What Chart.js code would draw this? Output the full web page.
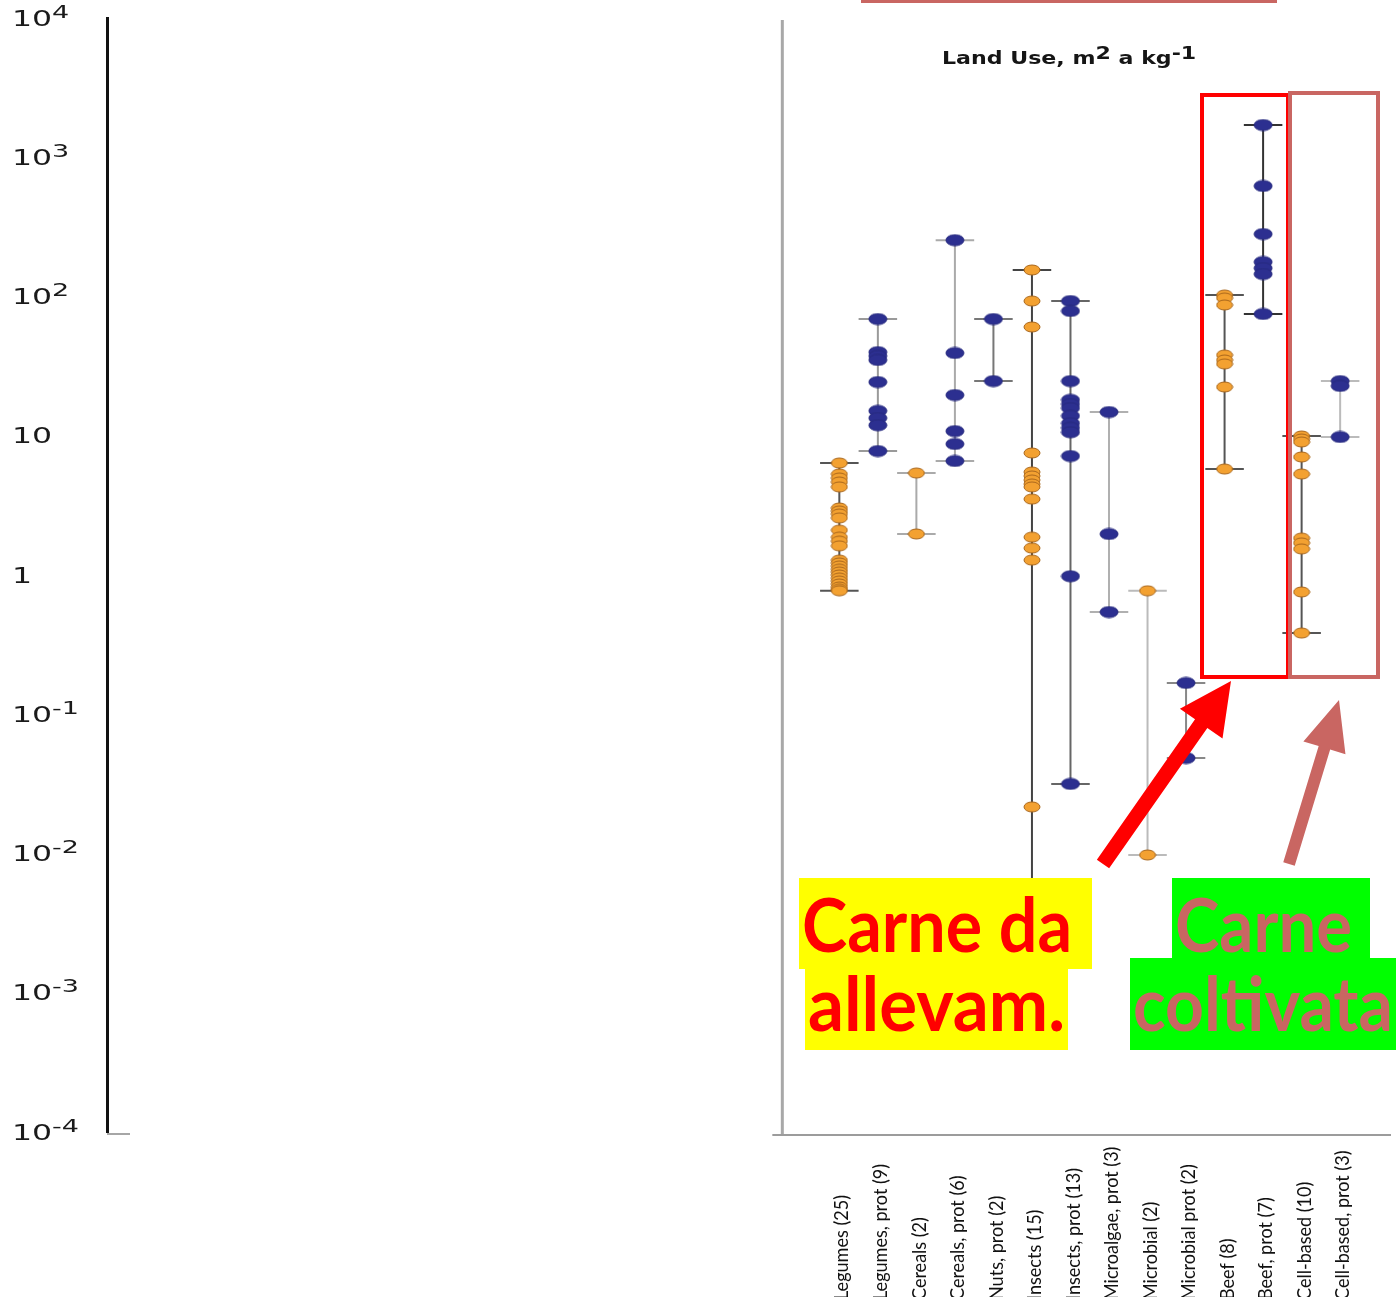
<!DOCTYPE html>
<html>
<head>
<meta charset="utf-8">
<title>Land Use, m2 a kg-1</title>
<script src="https://cdn.jsdelivr.net/npm/chart.js@4.4.0/dist/chart.umd.min.js"></script>
<style>
  html, body { margin: 0; padding: 0; background: #fff; }
  canvas { display: block; }
</style>
</head>
<body>
<canvas id="landChart" width="1396" height="1297"></canvas>
<script>
// categories along the x axis
const categories = [
  "Legumes (25)", "Legumes, prot (9)", "Cereals (2)", "Cereals, prot (6)",
  "Nuts, prot (2)", "Insects (15)", "Insects, prot (13)", "Microalgae, prot (3)",
  "Microbial (2)", "Microbial prot (2)", "Beef (8)", "Beef, prot (7)",
  "Cell-based (10)", "Cell-based, prot (3)",
];

// land use, m2 a per kg
const legumes = [6.37, 5.31, 4.97, 4.65, 4.29, 3.03, 2.88, 2.74, 2.57, 2.10, 1.87, 1.75, 1.62,
  1.28, 1.22, 1.16, 1.10, 1.05, 1.00, 0.95, 0.905, 0.862, 0.82, 0.79, 0.77];
const legumesProt = [68.9, 39.9, 37.4, 35.0, 24.3, 15.1, 13.4, 11.9, 7.77];
const cereals = [5.40, 1.97];
const cerealsProt = [254, 39.3, 19.6, 10.8, 8.73, 6.59];
const nutsProt = [68.9, 24.7];
const insects = [155, 92.8, 60.4, 7.52, 5.49, 5.14, 4.81, 4.50, 4.29, 3.51, 1.87, 1.56, 1.28, 0.0216, 0.00123];
const insectsProt = [92.8, 78.7, 24.7, 18.1, 16.9, 15.8, 13.9, 12.3, 11.4, 10.6, 7.15, 0.98, 0.0316];
const microalgaeProt = [14.8, 1.97, 0.542];
const microbial = [0.77, 0.00976];
const microbialProt = [0.168, 0.0485];
const beef = [102.5, 97.5, 86.9, 38.0, 35.0, 32.8, 22.4, 5.77];
const beefProt = [1704, 622, 281, 177, 160, 145, 74.9];
const cellBased = [9.96, 9.48, 9.02, 7.04, 5.31, 1.84, 1.70, 1.54, 0.755, 0.383];
const cellBasedProt = [24.7, 22.8, 9.80];

const seriesValues = [legumes, legumesProt, cereals, cerealsProt, nutsProt, insects, insectsProt,
  microalgaeProt, microbial, microbialProt, beef, beefProt, cellBased, cellBasedProt];

// "o" = whole product (orange dots), "b" = per kg protein (blue dots)
const seriesKind = ["o", "b", "o", "b", "b", "o", "b", "b", "o", "b", "o", "b", "o", "b"];

// y axis tick labels (log scale, powers of ten)
const yTickValues = [1e4, 1e3, 1e2, 10, 1, 0.1, 0.01, 0.001, 0.0001];
const yTickLabels = ["10^4", "10^3", "10^2", "10", "1", "10^-1", "10^-2", "10^-3", "10^-4"];

// line colour of each range bar
const whiskerColors = ["#555", "#9a9a9a", "#aaa", "#aaa", "#777", "#444", "#666",
  "#b0b0b0", "#bbb", "#888", "#555", "#333", "#555", "#bbb"];

// ellipse markers like the original
function ellipse(w, h, fill, stroke) {
  const c = document.createElement("canvas");
  c.width = w + 2;
  c.height = h + 2;
  const g = c.getContext("2d");
  g.beginPath();
  g.ellipse(c.width / 2, c.height / 2, w / 2, h / 2, 0, 0, Math.PI * 2);
  g.fillStyle = fill;
  g.fill();
  g.lineWidth = 1;
  g.strokeStyle = stroke;
  g.stroke();
  return c;
}
const orangeDot = ellipse(16, 10, "#f3a131", "#a8661c");
const blueDot = ellipse(18, 11, "#2c2f90", "#272a7e");

const orangePts = [];
const bluePts = [];
seriesValues.forEach((vals, i) => {
  vals.forEach((v) => {
    (seriesKind[i] === "o" ? orangePts : bluePts).push({ x: i, y: v });
  });
});

const whiskers = seriesValues.map((vals, i) => {
  const lo = Math.min(...vals);
  const hi = Math.max(...vals);
  return {
    data: [
      { x: i - 0.5, y: hi }, { x: i + 0.5, y: hi }, { x: i, y: hi },
      { x: i, y: lo }, { x: i - 0.5, y: lo }, { x: i + 0.5, y: lo },
    ],
    showLine: true,
    borderColor: whiskerColors[i],
    borderWidth: 2,
    pointRadius: 0,
    tension: 0,
    order: 1,
  };
});

// draws text pieces with raised superscripts, stretched horizontally
function drawRich(ctx, parts, x, y, hs, color) {
  ctx.fillStyle = color;
  ctx.textBaseline = "alphabetic";
  ctx.textAlign = "left";
  let cx = x;
  parts.forEach((p) => {
    ctx.font = p.font;
    const w = ctx.measureText(p.t).width;
    ctx.save();
    ctx.translate(cx, y - (p.rise || 0));
    ctx.scale(hs, 1);
    ctx.fillText(p.t, 0, 0);
    ctx.restore();
    cx += w * hs;
  });
}

function fitText(ctx, text, x, y, width, font, color) {
  ctx.font = font;
  const w = ctx.measureText(text).width;
  ctx.save();
  ctx.translate(x, y);
  ctx.scale(width / w, 1);
  ctx.fillStyle = color;
  ctx.textAlign = "left";
  ctx.textBaseline = "alphabetic";
  ctx.fillText(text, 0, 0);
  ctx.restore();
}

function arrow(ctx, x0, y0, x1, y1, shaft, headLen, headHalf, color) {
  const dx = x1 - x0, dy = y1 - y0;
  const len = Math.hypot(dx, dy);
  const ux = dx / len, uy = dy / len;
  const px = -uy, py = ux;
  const bx = x1 - ux * headLen, by = y1 - uy * headLen;
  ctx.fillStyle = color;
  ctx.beginPath();
  ctx.moveTo(x0 + px * shaft / 2, y0 + py * shaft / 2);
  ctx.lineTo(bx + px * shaft / 2, by + py * shaft / 2);
  ctx.lineTo(bx + px * headHalf, by + py * headHalf);
  ctx.lineTo(x1, y1);
  ctx.lineTo(bx - px * headHalf, by - py * headHalf);
  ctx.lineTo(bx - px * shaft / 2, by - py * shaft / 2);
  ctx.lineTo(x0 - px * shaft / 2, y0 - py * shaft / 2);
  ctx.closePath();
  ctx.fill();
}

const pink = "#c96662";

const decor = {
  id: "decor",
  beforeDatasetsDraw(chart) {
    const { ctx, chartArea, scales: { x } } = chart;
    ctx.save();
    // frame of the right-hand panel
    const fx = x.getPixelForValue(-1.48);
    ctx.strokeStyle = "#a8a8a8";
    ctx.lineWidth = 3;
    ctx.beginPath();
    ctx.moveTo(fx, 20);
    ctx.lineTo(fx, chartArea.bottom + 3);
    ctx.stroke();
    ctx.strokeStyle = "#9c9c9c";
    ctx.lineWidth = 2;
    ctx.beginPath();
    ctx.moveTo(fx - 10, chartArea.bottom + 3);
    ctx.lineTo(chartArea.right, chartArea.bottom + 3);
    ctx.stroke();
    // small foot of the left axis
    ctx.strokeStyle = "#888";
    ctx.lineWidth = 1.5;
    ctx.beginPath();
    ctx.moveTo(chartArea.left, chartArea.bottom + 2);
    ctx.lineTo(chartArea.left + 23, chartArea.bottom + 2);
    ctx.stroke();
    ctx.restore();
  },
  afterDraw(chart) {
    const { ctx, scales: { x, y } } = chart;
    ctx.save();

    // y tick labels with superscript exponents
    yTickLabels.forEach((lab, k) => {
      const py = y.getPixelForValue(yTickValues[k]);
      const [base, exp] = lab.split("^");
      const parts = [{ t: base, font: "21px 'DejaVu Sans'" }];
      if (exp) parts.push({ t: exp, font: "18px 'DejaVu Sans'", rise: 8 });
      drawRich(ctx, parts, 12, py + 7.5, 1.5, "#1a1a1a");
    });

    // title
    drawRich(ctx, [
      { t: "Land Use, m", font: "bold 17px 'DejaVu Sans'" },
      { t: "2", font: "bold 17px 'DejaVu Sans'", rise: 5 },
      { t: " a kg", font: "bold 17px 'DejaVu Sans'" },
      { t: "-1", font: "bold 17px 'DejaVu Sans'", rise: 5 },
    ], 942, 64, 1.3, "#151515");

    // category labels, rotated, reading upwards
    ctx.font = "19px Lato";
    ctx.fillStyle = "#111";
    categories.forEach((c, i) => {
      ctx.save();
      ctx.translate(x.getPixelForValue(i) + 3, 1300);
      ctx.rotate(-Math.PI / 2);
      ctx.scale(0.95, 1);
      ctx.textAlign = "left";
      ctx.textBaseline = "middle";
      ctx.fillText(c, 0, 0);
      ctx.restore();
    });

    // highlight boxes
    ctx.lineWidth = 4;
    ctx.strokeStyle = "#ff0000";
    ctx.strokeRect(1202, 95, 86, 582);
    ctx.strokeStyle = pink;
    ctx.strokeRect(1290, 93, 88, 584);
    ctx.fillStyle = pink;
    ctx.fillRect(861, 0, 416, 3);

    // arrows
    arrow(ctx, 1103, 864, 1231, 681, 15, 52, 26, "#ff0000");
    arrow(ctx, 1289, 864, 1339, 700, 12, 50, 22, pink);

    // label boxes
    ctx.fillStyle = "#ffff00";
    ctx.fillRect(799, 878, 293, 91);
    ctx.fillRect(805, 968, 263, 82);
    ctx.fillStyle = "#00ff00";
    ctx.fillRect(1172, 878, 198, 81);
    ctx.fillRect(1130, 958, 266, 92);
    fitText(ctx, "Carne da", 802, 952, 270, "bold 74px Lato", "#ff0000");
    fitText(ctx, "allevam.", 808, 1031, 257, "bold 74px Lato", "#ff0000");
    fitText(ctx, "Carne", 1175, 952, 177, "bold 74px Lato", pink);
    fitText(ctx, "coltivata", 1133, 1031, 260, "bold 74px Lato", pink);

    ctx.restore();
  },
};

new Chart(document.getElementById("landChart").getContext("2d"), {
  type: "scatter",
  data: {
    datasets: [
      { label: "product", data: orangePts, pointStyle: orangeDot, order: 0 },
      { label: "protein", data: bluePts, pointStyle: blueDot, order: 0 },
      ...whiskers,
    ],
  },
  options: {
    responsive: false,
    animation: false,
    devicePixelRatio: 1,
    events: [],
    layout: { padding: { left: 107, right: 2, top: 18, bottom: 165 } },
    plugins: {
      legend: { display: false },
      tooltip: { enabled: false },
      title: { display: false },
    },
    scales: {
      x: { type: "linear", display: false, min: -19.01, max: 14.32 },
      y: {
        type: "logarithmic",
        position: "left",
        min: 1e-4,
        max: 1e4,
        ticks: { display: false },
        grid: { display: false, drawTicks: false },
        border: { display: true, color: "#111", width: 3 },
        afterFit: (s) => { s.width = 0; },
      },
    },
  },
  plugins: [decor],
});
</script>
</body>
</html>
